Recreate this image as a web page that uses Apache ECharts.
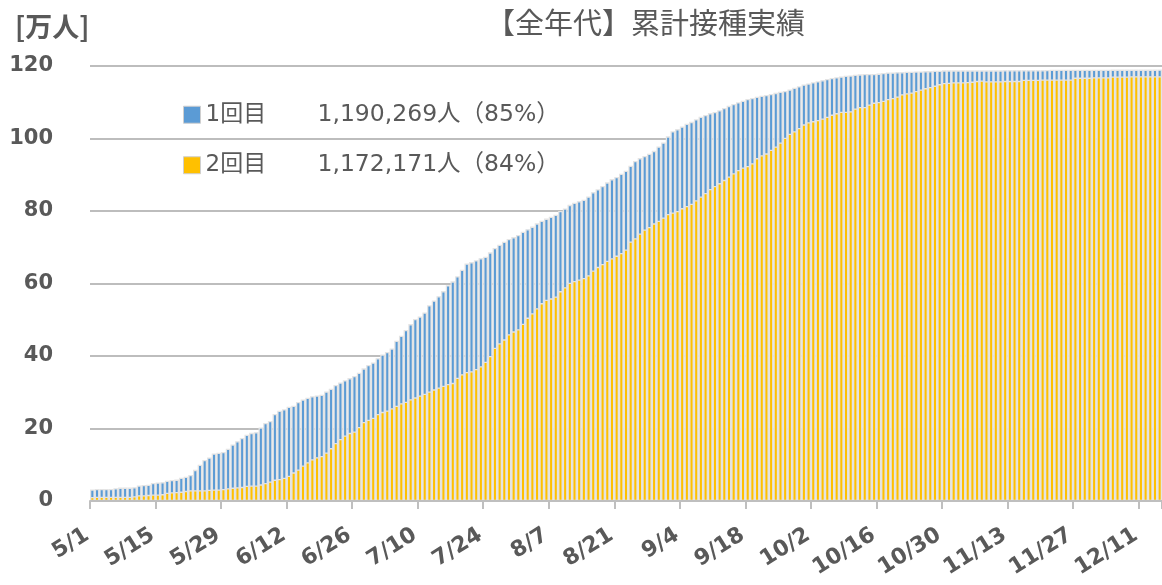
<!DOCTYPE html>
<html>
<head>
<meta charset="utf-8">
<script src="https://cdn.jsdelivr.net/npm/echarts@6/dist/echarts.min.js"></script>
<style>
html,body{margin:0;padding:0;background:#fff;}
#main{width:1162px;height:585px;}
</style>
</head>
<body>
<div id="main"></div>
<script>
// ---- data ----
const titleText = '【全年代】累計接種実績';
const unitText = '[万人]';
// months (month, number of days shown) : 5/1 .. 12/15
const monthSpans = [[5,31],[6,30],[7,31],[8,31],[9,30],[10,31],[11,30],[12,15]];
const seriesNames = ['1回目', '2回目'];
const legendTotals = ['1,190,269人（85%）', '1,172,171人（84%）'];
const yTicks = [0, 20, 40, 60, 80, 100, 120];

// cumulative 1st dose (万人), daily from 5/1
const dose1 = [
 3.2,3.3,3.3,3.3,3.3,3.5,3.7,3.7,3.7,3.8,
 4.3,4.4,4.5,5.0,5.1,5.2,5.6,5.8,5.9,6.4,
 6.7,7.2,8.6,10.0,11.3,12.0,13.1,13.3,13.5,14.4,
 15.6,16.5,17.4,18.3,18.8,19.0,20.3,21.5,22.1,24.0,
 24.9,25.3,26.0,26.3,27.3,28.0,28.5,28.9,29.1,29.3,
 30.2,31.0,32.0,32.7,33.3,33.9,34.5,35.4,36.6,37.5,
 38.2,39.4,40.4,41.1,42.1,44.2,45.6,47.2,48.8,50.2,
 50.9,52.0,54.0,55.3,56.5,57.9,59.5,60.6,62.0,63.8,
 65.5,65.9,66.4,67.0,67.4,68.6,69.8,70.7,71.5,72.3,
 72.8,73.4,74.3,75.0,75.7,76.6,77.3,77.9,78.4,79.0,
 80.0,80.7,81.7,82.3,82.7,83.1,84.0,85.2,86.0,86.9,
 87.9,88.8,89.4,90.3,91.1,92.5,93.8,94.6,95.2,95.8,
 96.6,97.8,98.9,100.6,102.0,102.6,103.3,104.1,104.6,105.3,
 106.0,106.5,107.0,107.3,107.8,108.4,109.0,109.5,110.0,110.4,
 110.9,111.2,111.5,111.8,112.0,112.3,112.6,112.9,113.1,113.5,
 114.0,114.4,114.9,115.2,115.5,115.8,116.1,116.4,116.7,116.9,
 117.1,117.3,117.4,117.6,117.7,117.8,117.8,117.8,117.9,118.1,
 118.2,118.2,118.3,118.3,118.4,118.4,118.5,118.5,118.6,118.6,
 118.7,118.7,118.8,118.8,118.8,118.8,118.8,118.8,118.8,118.8,
 118.8,118.8,118.8,118.8,118.8,118.85,118.85,118.85,118.85,118.85,
 118.85,118.85,118.85,118.85,118.9,118.95,118.95,118.95,118.95,118.95,
 118.95,118.95,118.95,118.95,118.95,118.95,118.95,118.95,119.0,119.0,
 119.0,119.0,119.0,119.0,119.0,119.0,119.0,119.0,119.03
];
// cumulative 2nd dose (万人), daily from 5/1
const dose2 = [
 1.1,1.2,1.2,1.2,1.2,1.2,1.2,1.2,1.2,1.3,
 1.6,1.6,1.7,1.8,1.8,1.9,2.3,2.4,2.5,2.6,
 2.8,3.0,3.0,3.0,3.0,3.1,3.2,3.2,3.3,3.5,
 3.7,3.8,3.9,4.2,4.3,4.3,4.6,5.0,5.4,5.9,
 6.1,6.4,7.0,7.9,8.7,9.8,10.7,11.5,12.1,12.4,
 13.4,14.6,16.0,17.1,18.1,18.8,19.2,20.4,21.8,22.4,
 23.0,24.0,24.6,25.0,25.6,26.3,27.0,27.4,28.1,28.6,
 29.1,29.6,30.2,30.8,31.3,31.8,32.3,32.6,34.0,35.0,
 35.6,35.8,36.4,37.2,38.4,40.0,42.3,43.5,44.6,46.0,
 46.8,47.4,48.9,50.6,51.8,53.2,54.6,55.5,55.9,56.4,
 57.9,59.0,60.2,60.7,61.1,61.5,62.3,63.6,64.6,65.4,
 66.3,67.0,67.7,68.4,69.4,71.6,72.5,73.8,74.9,75.6,
 76.6,77.3,78.2,79.2,79.6,80.0,80.8,81.4,82.0,83.0,
 84.0,85.0,86.1,86.9,87.7,88.6,89.5,90.4,91.3,92.0,
 92.4,93.2,94.6,95.4,95.9,96.9,97.8,98.9,100.2,101.3,
 102.0,102.9,103.9,104.5,104.8,105.1,105.5,106.0,106.6,107.0,
 107.4,107.4,107.5,108.3,108.7,108.7,109.4,109.9,110.1,110.4,
 110.9,111.2,111.6,112.2,112.5,112.7,113.1,113.5,113.9,114.2,
 114.6,115.0,115.3,115.4,115.5,115.5,115.5,115.6,115.7,115.9,
 116.0,115.8,115.8,115.8,115.8,115.9,115.9,115.9,115.9,116.2,
 116.2,116.2,116.2,116.3,116.3,116.3,116.3,116.3,116.3,116.3,
 116.8,116.8,116.8,116.8,116.9,116.9,116.9,116.9,117.1,117.1,
 117.1,117.1,117.2,117.2,117.2,117.2,117.2,117.2,117.2
];

// ---- build categories ----
const categories = [];
monthSpans.forEach(([m, n]) => { for (let d = 1; d <= n; d++) categories.push(m + '/' + d); });

const GREY = '#595959';
const chart = echarts.init(document.getElementById('main'), null, {renderer: 'canvas'});
const totalsByName = {};
seriesNames.forEach((n, i) => totalsByName[n] = legendTotals[i]);

const barStyle = (color) => ({
  color: color,
  borderColor: '#e4e4e4',
  borderWidth: 1.3
});
const LEGEND_FONT = "'DejaVu Sans', 'Noto Sans CJK JP'";

chart.setOption({
  animation: false,
  backgroundColor: '#fff',
  title: [
    {text: titleText, left: 481, top: 3,
     textStyle: {fontFamily: 'Noto Sans CJK JP', fontSize: 29, fontWeight: 'normal', color: GREY}},
    {text: unitText, left: 10, top: 8,
     textStyle: {fontFamily: 'Noto Sans CJK JP', fontSize: 27, fontWeight: 'bold', color: GREY}}
  ],
  legend: {
    orient: 'vertical', left: 178, top: 98,
    itemWidth: 17, itemHeight: 17, itemGap: 27,
    icon: 'rect',
    data: seriesNames,
    itemStyle: {borderColor: '#cfcfcf', borderWidth: 1},
    formatter: (name) => '{n|' + name + '}{v|' + totalsByName[name] + '}',
    textStyle: {
      color: GREY, fontSize: 23,
      rich: {
        n: {width: 112, fontSize: 23, lineHeight: 25, color: GREY, fontFamily: LEGEND_FONT},
        v: {fontSize: 23.5, lineHeight: 25, color: GREY, fontFamily: LEGEND_FONT}
      }
    }
  },
  grid: {left: 90, right: 0, top: 66, bottom: 84, containLabel: false},
  xAxis: {
    type: 'category',
    data: categories,
    boundaryGap: true,
    z: 5,
    axisLine: {show: true, lineStyle: {color: '#bfbfbf', width: 2}},
    axisTick: {show: true, interval: 13, length: 8, lineStyle: {color: '#bfbfbf', width: 2}},
    axisLabel: {
      interval: 13, rotate: 32, margin: 29, padding: [0, 6, 0, 0],
      color: GREY, fontSize: 22, fontWeight: 'bold', fontFamily: 'DejaVu Sans'
    },
    splitLine: {show: false}
  },
  yAxis: {
    type: 'value',
    min: yTicks[0], max: yTicks[yTicks.length - 1], interval: yTicks[1] - yTicks[0],
    axisLine: {show: false},
    axisTick: {show: false},
    axisLabel: {margin: 37, color: GREY, fontSize: 21, fontWeight: 'bold', fontFamily: 'DejaVu Sans'},
    splitLine: {show: true, lineStyle: {color: '#bdbdbd', width: 2}}
  },
  series: [
    {name: seriesNames[0], type: 'bar', data: dose1, barGap: '-100%', barCategoryGap: '0%',
     itemStyle: barStyle('#5b9bd5'), z: 2},
    {name: seriesNames[1], type: 'bar', data: dose2, barGap: '-100%', barCategoryGap: '0%',
     itemStyle: barStyle('#ffc000'), z: 3}
  ]
});
</script>
</body>
</html>
